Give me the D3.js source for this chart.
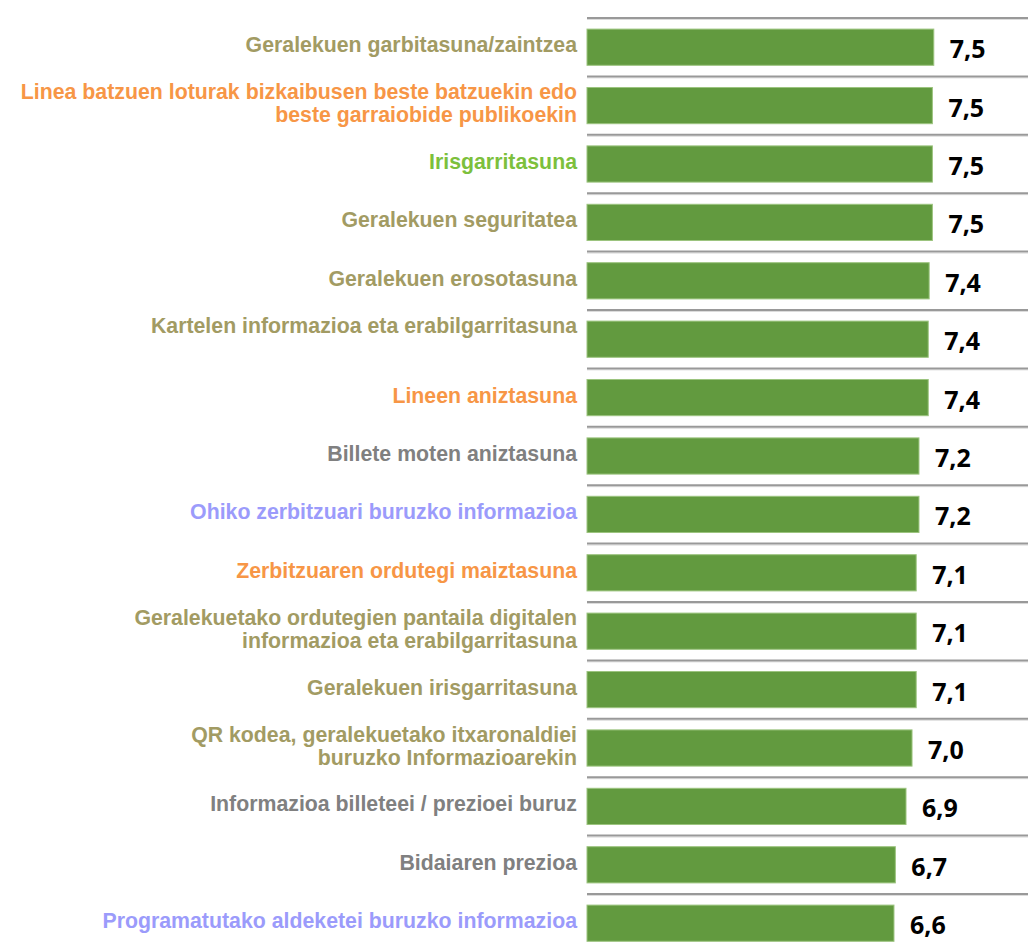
<!DOCTYPE html>
<html>
  <head>
    <meta http-equiv="Content-Type" content="text/html;charset=utf-8"/>
    <title>Balorazioa</title>
    <script src="https://d3js.org/d3.v7.min.js" charset="utf-8"></script>
    <style>
      body { margin: 0; background: #fff; }
      .cat { font-family: 'Liberation Sans', Arial, sans-serif; font-weight: bold; font-size: 21.3px; }
      .val { font-family: 'Open Sans', sans-serif; font-weight: bold; font-size: 25px; fill: #000; }
    </style>
  </head>
  <body>
    <div id="chart"></div>
  <script>
  // categories (two-line labels split with \n)
  var categories = [
    "Geralekuen garbitasuna/zaintzea",
    "Linea batzuen loturak bizkaibusen beste batzuekin edo\nbeste garraiobide publikoekin",
    "Irisgarritasuna",
    "Geralekuen seguritatea",
    "Geralekuen erosotasuna",
    "Kartelen informazioa eta erabilgarritasuna\n",
    "Lineen aniztasuna",
    "Billete moten aniztasuna",
    "Ohiko zerbitzuari buruzko informazioa",
    "Zerbitzuaren ordutegi maiztasuna",
    "Geralekuetako ordutegien pantaila digitalen\ninformazioa eta erabilgarritasuna",
    "Geralekuen irisgarritasuna",
    "QR kodea, geralekuetako itxaronaldiei\nburuzko Informazioarekin",
    "Informazioa billeteei / prezioei buruz",
    "Bidaiaren prezioa",
    "Programatutako aldeketei buruzko informazioa"
  ];

  var values = [7.49, 7.46, 7.46, 7.46, 7.39, 7.37, 7.37, 7.17, 7.17, 7.11, 7.11, 7.11, 7.02, 6.89, 6.66, 6.63];

  // label colour group of each category
  var groups = ["olive", "orange", "green", "olive", "olive", "olive", "orange", "grey",
                "blue", "orange", "olive", "olive", "olive", "grey", "grey", "blue"];

  var groupColors = {olive: "#a29b63", orange: "#f79646", green: "#7cc03c", grey: "#808080", blue: "#9b9bfb"};

  var width = 1028, height = 943;

  var svg = d3.select("#chart").append("svg")
    .attr("width", width)
    .attr("height", height);

  var x = d3.scaleLinear().domain([0, 10]).range([587, 587 + 463]);

  var y = d3.scaleBand()
    .domain(d3.range(categories.length))
    .range([18, 18 + 58.4 * categories.length])
    .paddingInner(0.38)
    .paddingOuter(0.19);

  var fmt = function(v) { return d3.format(".1f")(v).replace(".", ","); };

  // separator lines between the bars
  var lineYs = d3.range(categories.length + 1).map(function(i) {
    return y.range()[0] + i * y.step();
  });

  svg.selectAll("line.sepShade")
    .data(lineYs)
    .enter().append("line")
    .attr("class", "sepShade")
    .attr("x1", x(0)).attr("x2", width)
    .attr("y1", function(d) { return d + 1.5; })
    .attr("y2", function(d) { return d + 1.5; })
    .style("stroke", "#dcdcdc")
    .style("stroke-width", 1);

  svg.selectAll("line.sep")
    .data(lineYs)
    .enter().append("line")
    .attr("class", "sep")
    .attr("x1", x(0)).attr("x2", width)
    .attr("y1", function(d) { return d; })
    .attr("y2", function(d) { return d; })
    .style("stroke", "#999")
    .style("stroke-width", 2);

  // bars
  svg.selectAll("rect.bar")
    .data(values)
    .enter().append("rect")
    .attr("class", "bar")
    .attr("x", x(0))
    .attr("y", function(d, i) { return y(i); })
    .attr("width", function(d) { return x(d) - x(0); })
    .attr("height", y.bandwidth())
    .style("fill", "#629a3f")
    .style("stroke", "#9cc47f")
    .style("stroke-width", 1);

  // value labels
  svg.selectAll("text.val")
    .data(values)
    .enter().append("text")
    .attr("class", "val")
    .attr("x", function(d) { return x(d) + 16; })
    .attr("y", function(d, i) { return y(i) + y.bandwidth() / 2 + 1; })
    .attr("dominant-baseline", "central")
    .text(fmt);

  // category labels
  var lineH = 23;
  var cat = svg.selectAll("text.cat")
    .data(categories)
    .enter().append("text")
    .attr("class", "cat")
    .attr("text-anchor", "end")
    .style("fill", function(d, i) { return groupColors[groups[i]]; })
    .attr("transform", function(d, i) {
      return "translate(" + (x(0) - 10) + "," + (y(i) + y.bandwidth() / 2 - 2) + ")";
    });

  cat.each(function(d) {
    var parts = d.split("\n");
    var t = d3.select(this);
    parts.forEach(function(p, k) {
      t.append("tspan")
        .attr("x", 0)
        .attr("y", (k - (parts.length - 1) / 2) * lineH)
        .attr("dominant-baseline", "central")
        .text(p);
    });
  });
  </script>
  </body>
</html>
